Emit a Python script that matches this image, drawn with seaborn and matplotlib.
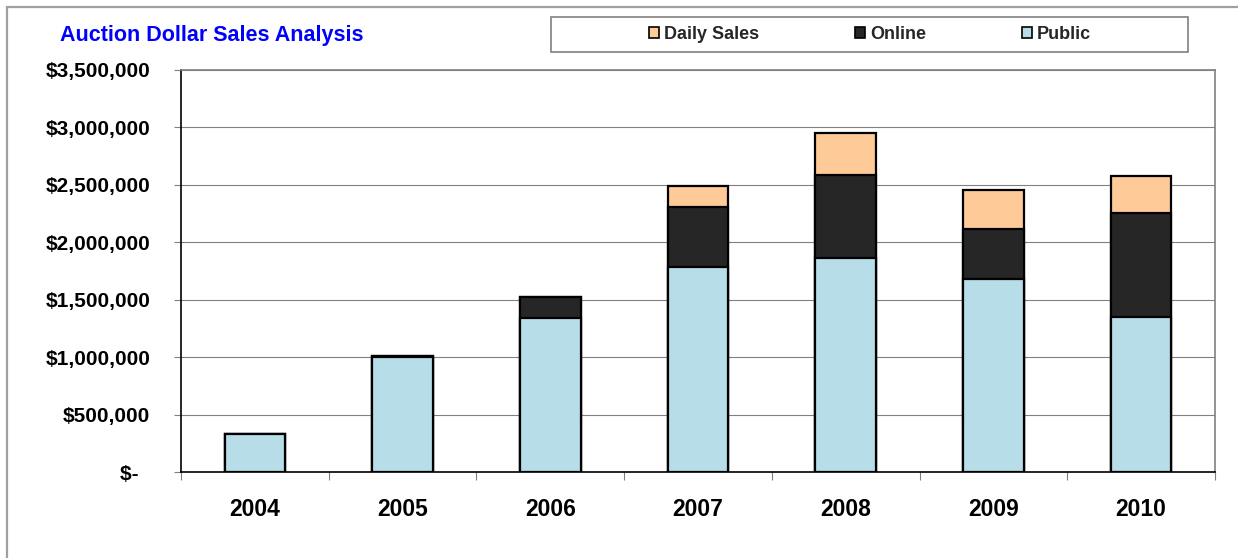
import matplotlib
matplotlib.use("Agg")
import matplotlib.pyplot as plt
from matplotlib.patches import Patch, Rectangle
from matplotlib.lines import Line2D
import seaborn as sns
import numpy as np
import pandas as pd

years = ["2004", "2005", "2006", "2007", "2008", "2009", "2010"]
public = [330000, 1000000, 1340000, 1783000, 1867000, 1678000, 1349000]
online = [0, 6000, 181000, 523000, 716000, 434000, 902000]
daily_sales = [0, 0, 0, 181000, 366000, 343000, 323000]
series_names = ["Daily Sales", "Online", "Public"]
y_ticks = [0, 500000, 1000000, 1500000, 2000000, 2500000, 3000000, 3500000]

c_public = "#B7DDE8"
c_online = "#262626"
c_daily = "#FDCA98"

sns.set_theme(style="white")
plt.rcParams["font.family"] = ["Liberation Sans", "DejaVu Sans"]
plt.rcParams["font.weight"] = "bold"

W, H = 1238, 558
fig = plt.figure(figsize=(W / 100, H / 100), dpi=100)
fig.patch.set_facecolor("white")
ax = fig.add_axes([181 / W, 1 - 472 / H, (1215 - 181) / W, (472 - 70) / H])

df = pd.DataFrame({"year": years, "public": public, "online": online, "daily": daily_sales})
df["c_online"] = df["public"] + df["online"]
df["c_total"] = df["c_online"] + df["daily"]

common = dict(width=0.41, edgecolor="black", linewidth=1.6, saturation=1,
              errorbar=None, ax=ax, zorder=3)
sns.barplot(data=df, x="year", y="c_total", color=c_daily, **common)
sns.barplot(data=df, x="year", y="c_online", color=c_online, **common)
sns.barplot(data=df, x="year", y="public", color=c_public, **common)

ax.set_xlim(-0.5, len(years) - 0.5)
ax.set_ylim(0, 3500000)
ax.set_yticks(y_ticks)
ax.set_yticklabels(["$-  " if v == 0 else f"${v:,.0f}" for v in y_ticks])
ax.set_xlabel("")
ax.set_ylabel("")
ax.yaxis.grid(True, color="#808080", linewidth=0.8, zorder=0)
ax.set_axisbelow(True)

ax.tick_params(axis="y", which="major", direction="out", length=5, width=0.8,
               color="#808080", pad=17, labelsize=15, left=True)
ax.tick_params(axis="x", which="major", length=0, pad=19, labelsize=16.5)
ax.set_xticks(np.arange(-0.5, len(years), 1.0), minor=True)
ax.tick_params(axis="x", which="minor", direction="out", length=6, width=0.8,
               color="#808080", bottom=True)
for lab in ax.get_xticklabels() + ax.get_yticklabels():
    lab.set_fontweight("bold")
    lab.set_color("black")

for side in ["top", "right"]:
    ax.spines[side].set_color("#808080")
    ax.spines[side].set_linewidth(1.2)
for side in ["left", "bottom"]:
    ax.spines[side].set_color("black")
    ax.spines[side].set_linewidth(1.2)

# figure border
fig.add_artist(Line2D([6.5 / W, 6.5 / W], [0, 1 - 6.5 / H], color="#A0A0A0",
                      linewidth=1.6, transform=fig.transFigure))
fig.add_artist(Line2D([6.5 / W, 1], [1 - 6.5 / H, 1 - 6.5 / H], color="#A0A0A0",
                      linewidth=1.6, transform=fig.transFigure))

# title
fig.text(60 / W, 1 - 41 / H, "Auction Dollar Sales Analysis", color="#0000FF",
         fontsize=15.5, fontweight="bold", ha="left", va="baseline")

# legend box
fig.add_artist(Rectangle((551 / W, 1 - 52 / H), (1188 - 551) / W, 35 / H,
                         transform=fig.transFigure, facecolor="white",
                         edgecolor="#808080", linewidth=1.2))
handles = [Patch(facecolor=c, edgecolor="black", linewidth=1.2)
           for c in [c_daily, c_online, c_public]]
fig.legend(handles, series_names, loc="center",
           bbox_to_anchor=(870 / W, 1 - 34.5 / H), ncol=3, frameon=False,
           prop={"weight": "bold", "size": 13}, handlelength=0.55,
           handleheight=0.55, handletextpad=0.3, columnspacing=5.3,
           borderpad=0)

fig.savefig("out.png", dpi=100, facecolor="white")
